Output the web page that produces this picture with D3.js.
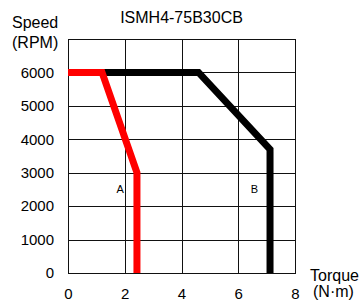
<!DOCTYPE html>
<html>
<head>
<meta charset="utf-8">
<script src="https://cdn.jsdelivr.net/npm/d3@7"></script>
<style>
  body { margin: 0; background: #fff; }
  svg text { font-family: "Liberation Sans", Arial, sans-serif; fill: #000; }
</style>
</head>
<body>
<div id="chart"></div>
<script>
// Chart values
let torqueTicks = [0, 2, 4, 6, 8];
let speedTicks = [0, 1000, 2000, 3000, 4000, 5000, 6000];

// Curve A (red) and curve B (black): torque (N·m) vs speed (RPM)
let curveATorque = [0, 1.2, 2.43, 2.43];
let curveASpeed = [6000, 6000, 3000, 0];
let curveBTorque = [0, 4.6, 7.12, 7.12];
let curveBSpeed = [6000, 6000, 3700, 0];

// Region labels
let labelNames = ["A", "B"];
let labelTorque = [1.84, 6.57];
let labelSpeed = [2400, 2400];

let margin = { top: 39, right: 67, bottom: 30, left: 68 };
let width = 362 - margin.left - margin.right,
	height = 303 - margin.top - margin.bottom;

let svg = d3.select("#chart").append("svg")
	.attr("width", 362)
	.attr("height", 303);

let g = svg.append("g")
	.attr("transform", "translate(" + margin.left + "," + margin.top + ")");

let x = d3.scaleLinear().domain([0, 8]).range([0, width]);
let y = d3.scaleLinear().domain([0, 7000]).range([height, 0]);

// Y axis with horizontal grid lines
let yAxis = g.append("g")
	.call(d3.axisLeft(y).tickValues(speedTicks).tickSize(-width).tickPadding(14).tickFormat(d3.format("d")));
yAxis.select(".domain").remove();
yAxis.selectAll("line").attr("stroke", "#111").attr("shape-rendering", "crispEdges");
yAxis.selectAll("text").style("font-size", "15px").attr("fill", "#000");

// X axis with vertical grid lines
let xAxis = g.append("g")
	.attr("transform", "translate(0," + height + ")")
	.call(d3.axisBottom(x).tickValues(torqueTicks).tickSize(-height).tickPadding(15));
xAxis.select(".domain").remove();
xAxis.selectAll("line").attr("stroke", "#111").attr("shape-rendering", "crispEdges");
xAxis.selectAll("text").style("font-size", "15px").attr("fill", "#000");

// Plot frame
g.append("rect")
	.attr("x", 0).attr("y", 0)
	.attr("width", width).attr("height", height)
	.attr("fill", "none")
	.attr("stroke", "#111")
	.attr("shape-rendering", "crispEdges");

let line = d3.line()
	.x(d => x(d[0]))
	.y(d => y(d[1]));

// Curve B first so red sits on top
g.append("path")
	.datum(d3.zip(curveBTorque, curveBSpeed))
	.attr("d", line)
	.attr("fill", "none")
	.attr("stroke", "#000")
	.attr("stroke-width", 7)
	.attr("stroke-linejoin", "miter");

g.append("path")
	.datum(d3.zip(curveATorque, curveASpeed))
	.attr("d", line)
	.attr("fill", "none")
	.attr("stroke", "#ff0000")
	.attr("stroke-width", 7)
	.attr("stroke-linejoin", "miter");

// Region labels
g.selectAll(".region-label")
	.data(d3.zip(labelNames, labelTorque, labelSpeed))
	.enter().append("text")
	.attr("class", "region-label")
	.attr("x", d => x(d[1]))
	.attr("y", d => y(d[2]))
	.style("text-anchor", "middle")
	.style("font-size", "11px")
	.text(d => d[0]);

// Title
svg.append("text")
	.attr("x", margin.left + width / 2)
	.attr("y", 23)
	.style("text-anchor", "middle")
	.style("font-size", "16px")
	.text("ISMH4-75B30CB");

// Y axis label
svg.append("text").attr("x", 12).attr("y", 28).style("font-size", "16px").text("Speed");
svg.append("text").attr("x", 12).attr("y", 48).style("font-size", "16px").text("(RPM)");

// X axis label
svg.append("text").attr("x", 310).attr("y", 281).style("font-size", "16px").text("Torque");
svg.append("text").attr("x", 313).attr("y", 297).style("font-size", "16px").text("(N·m)");
</script>
</body>
</html>
